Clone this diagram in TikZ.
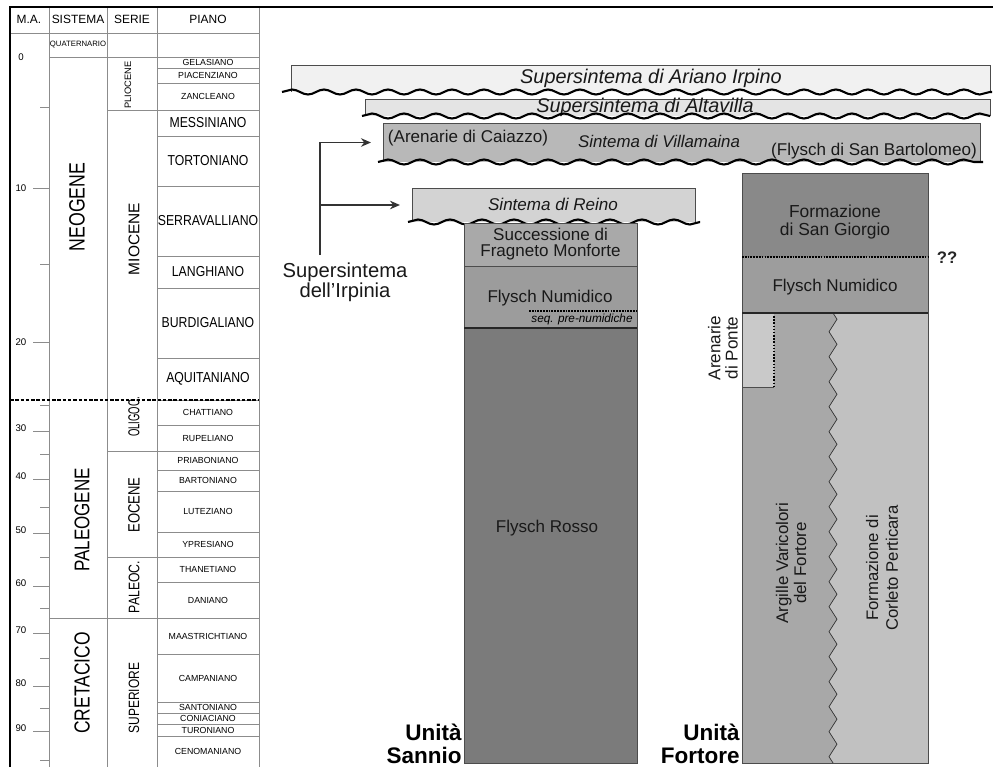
\documentclass[tikz,border=0pt]{standalone}
\usepackage{fontspec}
\setmainfont{Liberation Sans}
\newfontfamily\narrowfont[FakeStretch=0.8]{Liberation Sans}
\newfontfamily\stagefont[FakeStretch=0.85]{Liberation Sans}
\newfontfamily\condfont[FakeStretch=0.6]{Liberation Sans}
\usetikzlibrary{arrows.meta,decorations.pathmorphing,fit}
\definecolor{gr01}{HTML}{F1F1F1}
\definecolor{gr02}{HTML}{E4E4E4}
\definecolor{gr03}{HTML}{B8B8B8}
\definecolor{gr04}{HTML}{D3D3D3}
\definecolor{gr05}{HTML}{A9A9A9}
\definecolor{gr06}{HTML}{9C9C9C}
\definecolor{gr07}{HTML}{7B7B7B}
\definecolor{gr08}{HTML}{898989}
\definecolor{gr09}{HTML}{9D9D9D}
\definecolor{gr10}{HTML}{A8A8A8}
\definecolor{gr11}{HTML}{C1C1C1}
\definecolor{gr12}{HTML}{C9C9C9}
\tikzset{
  bed/.style={rectangle, inner sep=0pt, outer sep=0pt},
  rim/.style={draw=black!70, line width=0.5pt},
  tabline/.style={draw=black!45, line width=0.4pt},
  wave/.style={line width=1.2pt, decorate, decoration={snake, segment length=0.64cm, amplitude=0.05cm}},
  zz/.style={decoration={zigzag, segment length=0.5cm, amplitude=0.08cm}},
  link/.style={draw=black!80, line width=1pt, -{Stealth[length=2mm,width=1.7mm]}, shorten >=0.24cm},
  dotline/.style={line width=1.3pt, dash pattern=on 1pt off 0.6pt},
  lbl/.style={inner sep=0pt, align=center, text=black!90, font=\fontsize{9.7}{9.8}\selectfont},
  itxt/.style={inner sep=0pt, text=black!90, font=\fontsize{11.3}{12}\selectfont\itshape},
  unit/.style={inner sep=0pt, align=right, anchor=south east, font=\fontsize{12.8}{13}\selectfont\bfseries},
  hdr/.style={inner sep=0pt, font=\fontsize{6.8}{7}\selectfont},
  ma/.style={inner sep=0pt, font=\fontsize{5.5}{6}\selectfont},
  era/.style={inner sep=0pt, rotate=90, font=\fontsize{12.4}{13}\selectfont\narrowfont},
  epoch/.style={inner sep=0pt, rotate=90, font=\fontsize{9.3}{10}\selectfont\narrowfont},
  stage/.style={inner sep=0pt, font=\fontsize{8.2}{9}\selectfont\stagefont},
  substage/.style={inner sep=0pt, font=\fontsize{5}{5}\selectfont},
}
\begin{document}
\begin{tikzpicture}[x=0.02cm, y=-0.02cm]
\useasboundingbox (0,0) rectangle (993,767);

% time scale
\foreach \x in {49,107,157,259} \draw[tabline] (\x,7) -- (\x,767);
\draw[tabline] (10,33) -- (259,33);
\draw[tabline] (49,57) -- (259,57);
\draw[tabline] (107,110) -- (157,110);
\draw[tabline] (49,618) -- (157,618);
\foreach \y in {451,557} \draw[tabline] (107,\y) -- (157,\y);
\node[hdr] (hma) at (29,19) {M.A.};
\node[hdr] (hsis) at (78,19) {SISTEMA};
\node[hdr] (hser) at (132,19) {SERIE};
\node[hdr] (hpia) at (208,19) {PIANO};
\foreach \v/\y in {0/57,10/188,20/342,30/428,40/476,50/530,60/583,70/630,80/683,90/728}
  \node[ma] (ma\v) at (21,\y) {\v};
\foreach \y in {188,342,431,479,533,586,633,686,731} \draw[tabline] (33,\y) -- (49,\y);
\foreach \y in {107,264,405,454,507,557,608,658,708,760} \draw[tabline] (40,\y) -- (49,\y);
\node[inner sep=0pt, font=\fontsize{4.4}{5}\selectfont] (quat) at (78,45) {QUATERNARIO};
\node[era, font=\fontsize{12.6}{13}\selectfont\narrowfont] (neogene) at (77,207) {NEOGENE};
\node[era, font=\fontsize{12.1}{13}\selectfont\narrowfont] (paleogene) at (82,520) {PALEOGENE};
\node[era] (cretacico) at (82,683) {CRETACICO};
\node[epoch, font=\fontsize{5.3}{6}\selectfont] (plio) at (128,85) {PLIOCENE};
\node[epoch, font=\fontsize{8.8}{9}\selectfont] (mio) at (134,239) {MIOCENE};
\node[epoch, font=\fontsize{9}{9}\selectfont\condfont] (oligo) at (134,417) {OLIGOC.};
\node[epoch] (eoc) at (134,505) {EOCENE};
\node[epoch, font=\fontsize{8.7}{9}\selectfont\narrowfont] (paleoc) at (134,587) {PALEOC.};
\node[epoch, font=\fontsize{8.5}{9}\selectfont\narrowfont] (sup) at (134,698) {SUPERIORE};
\foreach \n/\ya/\yb in {MESSINIANO/110/136, TORTONIANO/136/186, SERRAVALLIANO/186/256,
    LANGHIANO/256/288, BURDIGALIANO/288/358, AQUITANIANO/358/400} {
  \draw[tabline] (157,\ya) -- (259,\ya);
  \node[stage] (\n) at (208,{(\ya+\yb)/2}) {\n};
}
\foreach \n/\ya/\yb in {GELASIANO/57/68, PIACENZIANO/68/83, ZANCLEANO/83/110,
    CHATTIANO/400/425, RUPELIANO/425/451, PRIABONIANO/451/470, BARTONIANO/470/491,
    LUTEZIANO/491/532, YPRESIANO/532/557, THANETIANO/557/582, DANIANO/582/618,
    MAASTRICHTIANO/618/654, CAMPANIANO/654/702, SANTONIANO/702/713,
    CONIACIANO/713/724, TURONIANO/724/736, CENOMANIANO/736/767} {
  \draw[tabline] (157,\ya) -- (259,\ya);
  \node[substage] (\n) at (208,{(\ya+\yb)/2}) {\n};
}
\draw[line width=1.3pt, dash pattern=on 2pt off 1pt] (10,400) -- (259,400);
\draw[line width=1.5pt] (10,767) -- (10,7) -- (993,7);

% supersintemi e sintemi
\node[bed, fill=gr01, fit={(291,65) (990,92)}] (ariano) {};
\draw[rim] (ariano.south west) |- (ariano.north east) -- (ariano.south east);
\node[itxt] (tariano) at (651,78) {Supersintema di Ariano Irpino};
\draw[wave] (282,92) -- (992,92);

\node[bed, fill=gr02, fit={(365,99) (990,116)}] (altavilla) {};
\draw[rim] (altavilla.south west) |- (altavilla.north east) -- (altavilla.south east);
\node[itxt] (taltavilla) at (645,107) {Supersintema di Altavilla};
\draw[wave] (362,116) -- (990,116);

\node[bed, fill=gr03, fit={(383,123) (980,162)}] (villamaina) {};
\draw[rim] (villamaina.south west) |- (villamaina.north east) -- (villamaina.south east);
\node[lbl] (caiazzo) at (468,138) {(Arenarie di Caiazzo)};
\node[lbl, font=\fontsize{9.6}{10}\selectfont\itshape] (tvillamaina) at (659,141) {Sintema di Villamaina};
\node[lbl] (bartolomeo) at (874,151) {(Flysch di San Bartolomeo)};
\draw[wave] (378,162) -- (983,162);

\node[bed, fill=gr04, fit={(412,188) (695,222)}] (reino) {};
\draw[rim] (reino.south west) |- (reino.north east) -- (reino.south east);
\node[lbl, font=\fontsize{9.7}{10}\selectfont\itshape] (treino) at (553,204) {Sintema di Reino};
\draw[wave] (408,222) -- (700,222);

\node[lbl, font=\fontsize{11.5}{11.3}\selectfont] (irpinia) at (345,282) {Supersintema\\dell'Irpinia};
\coordinate (stem) at (320,255);
\draw[link] (stem) |- (villamaina.west);
\draw[link] (stem |- reino.west) -- (reino.west);

% Unita Sannio
\node[bed, fill=gr05, fit={(464,223) (637,266)}] (fragneto) {};
\node[bed, fill=gr06, fit={(464,266) (637,328)}] (numsannio) {};
\node[bed, fill=gr07, fit={(464,328) (637,763)}] (rosso) {};
\draw[rim] (fragneto.north west) rectangle (rosso.south east);
\draw[rim] (numsannio.north west) -- (numsannio.north east);
\draw[rim, line width=1pt, draw=black!85] (rosso.north west) -- (rosso.north east);
\node[lbl, font=\fontsize{9.7}{9.2}\selectfont] (tfragneto) at (fragneto) {Successione di\\Fragneto Monforte};
\node[lbl] (tnumsannio) at (550,298) {Flysch Numidico};
\draw[dotline, line width=1pt] (529,311) -- (637,311);
\node[inner sep=0pt, font=\fontsize{6.7}{7}\selectfont\itshape] (prenum) at (582,319) {seq. pre-numidiche};
\node[lbl] (trosso) at (547,528) {Flysch Rosso};
\node[unit] (sannio) at (462,764) {Unità\\Sannio};

% Unita Fortore
\node[bed, fill=gr08, fit={(742,173) (928,257)}] (giorgio) {};
\node[bed, fill=gr09, fit={(742,257) (928,313)}] (numfortore) {};
\node[bed, fill=gr11, fit={(742,313) (928,763)}] (corleto) {};
\fill[gr10] (corleto.north west) -- (833,313) decorate[zz]{-- (833,763)} -- (corleto.south west) -- cycle;
\draw[black!80, zz, decorate] (833,313) -- (833,763);
\node[bed, fill=gr12, fit={(742,313) (774,387)}] (ponte) {};
\draw[rim] (ponte.south west) -- (ponte.south east);
\draw[densely dotted, line width=0.8pt] (ponte.north east) -- (ponte.south east);
\draw[rim] (giorgio.north west) rectangle (corleto.south east);
\draw[rim, line width=1pt, draw=black!85] (corleto.north west) -- (corleto.north east);
\draw[dotline] (numfortore.north west) -- (numfortore.north east);
\node[inner sep=0pt, font=\fontsize{9.5}{10}\selectfont\bfseries, text=black!85] (qq) at (947,258) {??};
\node[lbl, font=\fontsize{9.9}{10.8}\selectfont] (tgiorgio) at (835,222) {Formazione\\di San Giorgio};
\node[lbl] (tnumfortore) at (835,287) {Flysch Numidico};
\node[lbl, rotate=90] (tponte) at (723,348) {Arenarie\\di Ponte};
\node[lbl, rotate=90, font=\fontsize{9.6}{10.2}\selectfont] (targille) at (791,563) {Argille Varicolori\\del Fortore};
\node[lbl, rotate=90, font=\fontsize{9.5}{11.3}\selectfont] (tcorleto) at (882,568) {Formazione di\\Corleto Perticara};
\node[unit] (fortore) at (740,764) {Unità\\Fortore};
\end{tikzpicture}
\end{document}
